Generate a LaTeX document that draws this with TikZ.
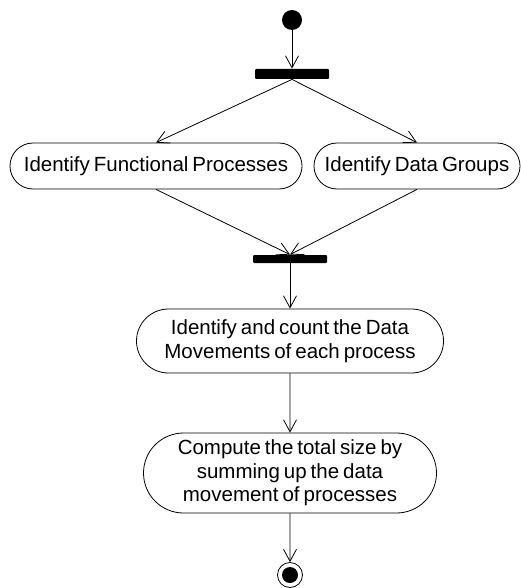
\documentclass[tikz,border=0pt]{standalone}
\usepackage{fontspec}
\setmainfont{Liberation Sans}[WordSpace=0.7]
\usetikzlibrary{arrows.meta,shapes.misc}

\begin{document}
\begin{tikzpicture}[x=1pt,y=-1pt,line width=0.8pt,
    >={Straight Barb[length=12pt,width=13pt,line width=0.8pt]}]

      \useasboundingbox (0,0) rectangle (521,588);

      \begin{scope}[every node/.style={rounded rectangle,draw,inner sep=0pt,
          align=center,font=\fontsize{20.5}{23.5}\selectfont}]
        \node[minimum width=292pt,minimum height=46pt] (fp) at (156,166) {Identify Functional Processes};
        \node[minimum width=206pt,minimum height=46pt] (dg) at (417,166) {Identify Data Groups};
        \node[minimum width=307pt,minimum height=64pt] (dm) at (290,341) {Identify and count the Data\\Movements of each process};
        \node[minimum width=293pt,minimum height=80pt] (ts) at (290,473) {Compute the total size by\\summing up the data\\movement of processes};
      \end{scope}

      \begin{scope}[every node/.style={fill=black,inner sep=0pt,rounded corners=1pt}]
        \node[minimum width=74pt,minimum height=10pt] (fork) at (292,74) {};
        \node[minimum width=74pt,minimum height=8pt]  (join) at (290,259) {};
      \end{scope}

      \node[circle,fill=black,minimum size=20pt,inner sep=0pt] (start) at (292,20) {};
      \node[circle,draw,minimum size=25pt,inner sep=0pt] (final) at (290,575) {};
      \fill (final.center) circle (8pt);

      \begin{scope}[every edge/.style={draw,->}]
        \path (start) edge (fork);
        \path (fork.south) edge (fp.north);
        \path (fork.south) edge (dg.north);
        \path (fp.south) edge (join.north);
        \path (dg.south) edge (join.north);
        \path (join) edge (dm);
        \path (dm) edge (ts);
        \path (ts) edge (final);
      \end{scope}

    \end{tikzpicture}
\end{document}
